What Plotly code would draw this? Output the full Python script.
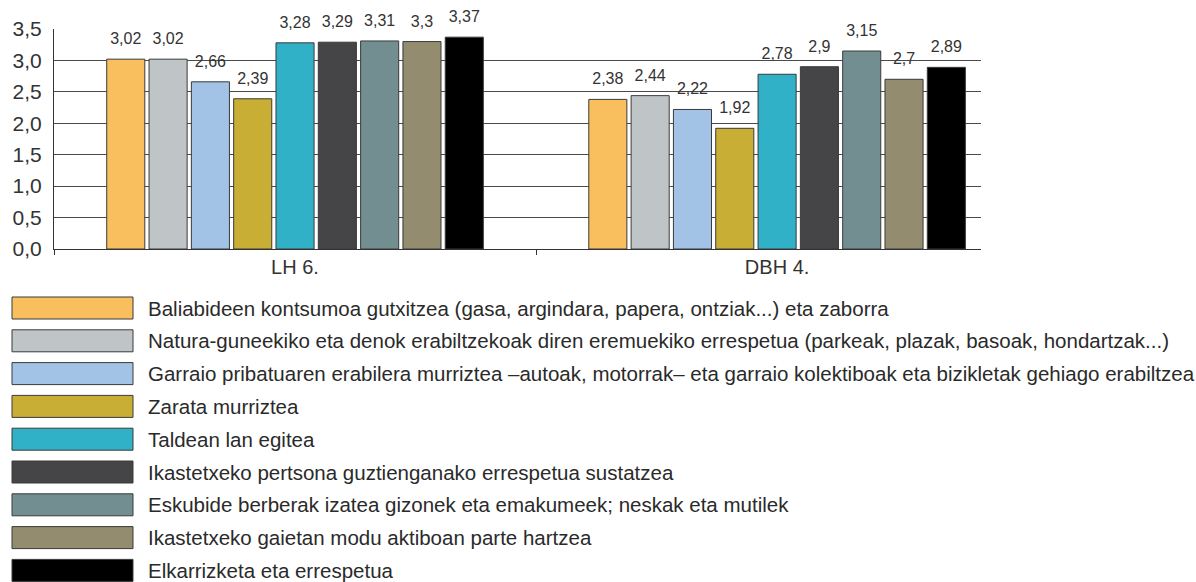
import plotly.graph_objects as go

categories = ["LH 6.", "DBH 4."]
series_names = [
    "Baliabideen kontsumoa gutxitzea (gasa, argindara, papera, ontziak...) eta zaborra",
    "Natura-guneekiko eta denok erabiltzekoak diren eremuekiko errespetua (parkeak, plazak, basoak, hondartzak...)",
    "Garraio pribatuaren erabilera murriztea –autoak, motorrak– eta garraio kolektiboak eta bizikletak gehiago erabiltzea",
    "Zarata murriztea",
    "Taldean lan egitea",
    "Ikastetxeko pertsona guztienganako errespetua sustatzea",
    "Eskubide berberak izatea gizonek eta emakumeek; neskak eta mutilek",
    "Ikastetxeko gaietan modu aktiboan parte hartzea",
    "Elkarrizketa eta errespetua",
]
values = [
    [3.02, 2.38],
    [3.02, 2.44],
    [2.66, 2.22],
    [2.39, 1.92],
    [3.28, 2.78],
    [3.29, 2.90],
    [3.31, 3.15],
    [3.30, 2.70],
    [3.37, 2.89],
]
labels = [
    ["3,02", "2,38"],
    ["3,02", "2,44"],
    ["2,66", "2,22"],
    ["2,39", "1,92"],
    ["3,28", "2,78"],
    ["3,29", "2,9"],
    ["3,31", "3,15"],
    ["3,3", "2,7"],
    ["3,37", "2,89"],
]
colors = ["#F9BE5E", "#BFC5C7", "#A2C3E5", "#C8AE35", "#30B1C8",
          "#454547", "#728E90", "#938C6F", "#000000"]
y_ticks = [0, 0.5, 1.0, 1.5, 2.0, 2.5, 3.0, 3.5]

FONT = "Liberation Sans"
W, H = 1196, 582
L, R, T, B = 54, 981, 29, 249
GAP = 0.21

fig = go.Figure()
for i, (name, vals, col) in enumerate(zip(series_names, values, colors)):
    fig.add_trace(go.Bar(
        x=categories, y=vals, name=name, offsetgroup=str(i),
        marker=dict(color=col, line=dict(color="#3a3a3a", width=1)),
        showlegend=False, hoverinfo="skip",
    ))
# value labels, grouped like the bars, lifted above the bar tops
for i, (vals, txt) in enumerate(zip(values, labels)):
    fig.add_trace(go.Scatter(
        x=categories, y=vals, text=txt, mode="markers+text",
        offsetgroup=str(i), textposition="top center", cliponaxis=False,
        marker=dict(size=16, opacity=0),
        textfont=dict(family=FONT, size=16, color="#333333"),
        showlegend=False, hoverinfo="skip",
    ))

# manual legend
shapes = []
annotations = []
pw, ph = R - L, B - T
def px_to_paper_x(px):
    return (px - L) / pw
def px_to_paper_y(py):
    return (B - py) / ph

for i, (name, col) in enumerate(zip(series_names, colors)):
    top = 297 + i * 32.8
    shapes.append(dict(
        type="rect", xref="paper", yref="paper",
        x0=px_to_paper_x(12), x1=px_to_paper_x(133),
        y0=px_to_paper_y(top), y1=px_to_paper_y(top + 22),
        fillcolor=col, line=dict(color="#3a3a3a", width=1),
    ))
    annotations.append(dict(
        xref="paper", yref="paper", x=px_to_paper_x(146), y=px_to_paper_y(top + 11),
        text=name, showarrow=False, xanchor="left", yanchor="middle",
        font=dict(family=FONT, size=20.5, color="#2a2a2a"),
    ))

fig.update_layout(
    width=W, height=H,
    margin=dict(l=L, r=W - R, t=T, b=H - B, autoexpand=False),
    paper_bgcolor="white", plot_bgcolor="white",
    barmode="group", bargap=GAP, bargroupgap=0.1,
    scattermode="group", scattergap=GAP,
    separators=",.",
    shapes=shapes, annotations=annotations,
    font=dict(family=FONT, color="#333333"),
)
fig.update_xaxes(
    range=[-0.5, 1.423], showgrid=False,
    showline=True, linecolor="#333333", linewidth=1,
    ticks="outside", tickson="boundaries", ticklen=5, tickcolor="#333333",
    tickfont=dict(family=FONT, size=20, color="#333333"),
)
fig.update_yaxes(
    range=[0, 3.5], tickvals=y_ticks, tickformat=".1f",
    showgrid=True, gridcolor="#4a4a4a", gridwidth=1,
    showline=True, linecolor="#333333", linewidth=1,
    ticks="", ticklabelstandoff=7,
    tickfont=dict(family=FONT, size=21, color="#333333"),
    zeroline=False,
)

fig.write_html("out.html", config={"displayModeBar": False},
               post_script="document.body.style.margin='0';")
